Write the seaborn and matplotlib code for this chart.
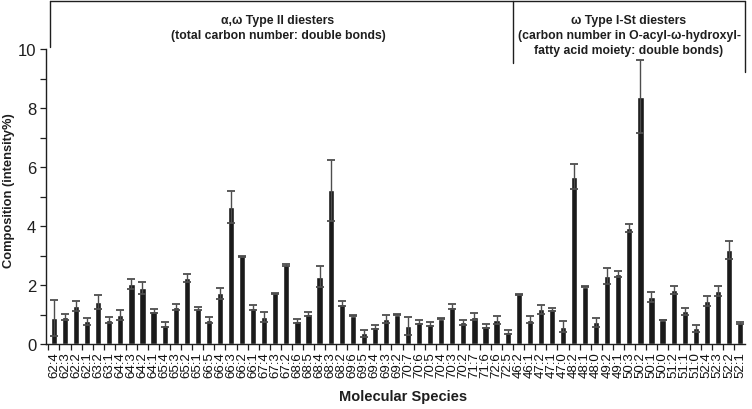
import matplotlib
matplotlib.use("Agg")
import matplotlib.pyplot as plt
import seaborn as sns
import numpy as np
import pandas as pd
from matplotlib.ticker import MultipleLocator, FixedLocator
from matplotlib.lines import Line2D
from matplotlib import font_manager

# ---------------- data ----------------
species_type2 = ["62:4", "62:3", "62:2", "62:1", "63:2", "63:1", "64:4", "64:3", "64:2", "64:1",
                 "65:4", "65:3", "65:2", "65:1", "66:5", "66:4", "66:3", "66:2", "66:1", "67:4",
                 "67:3", "67:2", "68:6", "68:5", "68:4", "68:3", "68:2", "69:6", "69:5", "69:4",
                 "69:3", "69:2", "70:7", "70:6", "70:5", "70:4", "70:3", "70:2", "71:7", "71:6",
                 "72:6", "72:5"]
values_type2 = [0.88, 0.92, 1.29, 0.77, 1.41, 0.81, 0.98, 2.05, 1.90, 1.12,
                0.66, 1.24, 2.24, 1.20, 0.82, 1.72, 4.65, 2.98, 1.23, 0.92,
                1.72, 2.69, 0.79, 1.01, 2.28, 5.21, 1.37, 0.96, 0.36, 0.58,
                0.84, 1.00, 0.60, 0.75, 0.67, 0.86, 1.26, 0.73, 0.92, 0.60,
                0.81, 0.41]
errors_type2 = [0.62, 0.09, 0.16, 0.12, 0.24, 0.11, 0.17, 0.17, 0.21, 0.07,
                0.10, 0.10, 0.13, 0.06, 0.10, 0.18, 0.54, 0.02, 0.09, 0.17,
                0.01, 0.03, 0.07, 0.06, 0.36, 1.04, 0.08, 0.02, 0.13, 0.06,
                0.14, 0.01, 0.30, 0.06, 0.07, 0.01, 0.09, 0.09, 0.12, 0.07,
                0.13, 0.06]

species_type1 = ["46:2", "46:1", "47:2", "47:1", "47:0", "48:2", "48:1", "48:0", "49:2", "49:1",
                 "50:3", "50:2", "50:1", "50:0", "51:2", "51:1", "51:0", "52:4", "52:3", "52:2",
                 "52:1"]
values_type1 = [1.69, 0.83, 1.17, 1.17, 0.58, 5.67, 1.94, 0.73, 2.31, 2.37,
                3.94, 8.38, 1.60, 0.81, 1.82, 1.11, 0.53, 1.46, 1.80, 3.18,
                0.72]
errors_type1 = [0.02, 0.13, 0.15, 0.06, 0.19, 0.43, 0.01, 0.16, 0.28, 0.10,
                0.14, 1.24, 0.17, 0.01, 0.14, 0.12, 0.11, 0.16, 0.16, 0.30,
                0.03]

title_type2 = ["α,ω Type II diesters", "(total carbon number: double bonds)"]
title_type1 = ["ω Type I-St diesters", "(carbon number in O-acyl-ω-hydroxyl-",
               "fatty acid moiety: double bonds)"]
y_ticks = [0, 2, 4, 6, 8, 10]

# ---------------- style ----------------
sns.set_theme(style="white")


def has_font(name):
    try:
        font_manager.findfont(font_manager.FontProperties(family=name), fallback_to_default=False)
        return True
    except Exception:
        return False


narrow = "Liberation Sans Narrow" if has_font("Liberation Sans Narrow") else "Liberation Sans"
plt.rcParams["font.family"] = ["Liberation Sans", "DejaVu Sans"]

species = species_type2 + species_type1
values = values_type2 + values_type1
errors = errors_type2 + errors_type1
df = pd.DataFrame({"Species": species, "Composition": values})

INK = "#1e1e1e"
W, H = 752, 410
fig = plt.figure(figsize=(W / 100, H / 100), dpi=100)
ax = fig.add_axes([46 / W, 65 / H, 699 / W, 295 / H])

sns.barplot(data=df, x="Species", y="Composition", color="#1a1a1a", saturation=1,
            width=0.56, ax=ax, errorbar=None)
centers = [p.get_x() + p.get_width() / 2 for p in ax.patches]
ax.errorbar(centers, values, yerr=errors, fmt="none", ecolor="#4d4d4d",
            elinewidth=1.0, capsize=3.2, capthick=1.3, zorder=5)

ax.set_xlim(-0.72, len(species) - 0.55)
ax.set_ylim(0, 10)
ax.set_xlabel("")
ax.set_ylabel("")

for s in ["top", "right"]:
    ax.spines[s].set_visible(False)
for s in ["left", "bottom"]:
    ax.spines[s].set_color(INK)
    ax.spines[s].set_linewidth(1.0)

ax.set_yticks(y_ticks)
ax.yaxis.set_minor_locator(MultipleLocator(1))
ax.tick_params(axis="y", which="both", direction="out", length=4, width=0.9,
               color=INK, left=True)
ax.tick_params(axis="y", which="major", labelsize=12, pad=3, labelcolor=INK)
for lab in ax.get_yticklabels():
    lab.set_family([narrow, "DejaVu Sans"])

ax.set_xticks(range(len(species)))
ax.set_xticklabels(species, rotation=90)
ax.xaxis.set_minor_locator(FixedLocator(np.arange(-0.5, len(species), 1.0)))
ax.tick_params(axis="x", which="major", length=0, labelsize=9.5, pad=5, labelcolor="#111111")
ax.tick_params(axis="x", which="minor", direction="out", length=4, width=0.9,
               color=INK, bottom=True)
for lab in ax.get_xticklabels():
    lab.set_family([narrow, "DejaVu Sans"])

fig.text(9 / W, 1 - 191 / H, "Composition (intensity%)", rotation=90, ha="center", va="center",
         fontsize=9.3, fontweight="bold", color=INK)
fig.text(403 / W, 1 - 397 / H, "Molecular Species", ha="center", va="center",
         fontsize=10.5, fontweight="bold", color=INK)

# header bracket
def fig_line(x0, y0, x1, y1):
    fig.add_artist(Line2D([x0 / W, x1 / W], [1 - y0 / H, 1 - y1 / H], transform=fig.transFigure,
                          color=INK, linewidth=1.0))

fig_line(50, 2, 745, 2)
fig_line(50, 2, 50, 48)
fig_line(513, 2, 513, 64)
fig_line(745, 2, 745, 73)

for i, line in enumerate(title_type2):
    fig.text(278 / W, 1 - (21 + 15 * i) / H, line, ha="center", va="center", fontsize=8.8,
             fontweight="bold", color=INK)
for i, line in enumerate(title_type1):
    fig.text(629 / W, 1 - (21 + 15 * i) / H, line, ha="center", va="center", fontsize=8.8,
             fontweight="bold", color=INK)

fig.savefig("out.png", dpi=100)
